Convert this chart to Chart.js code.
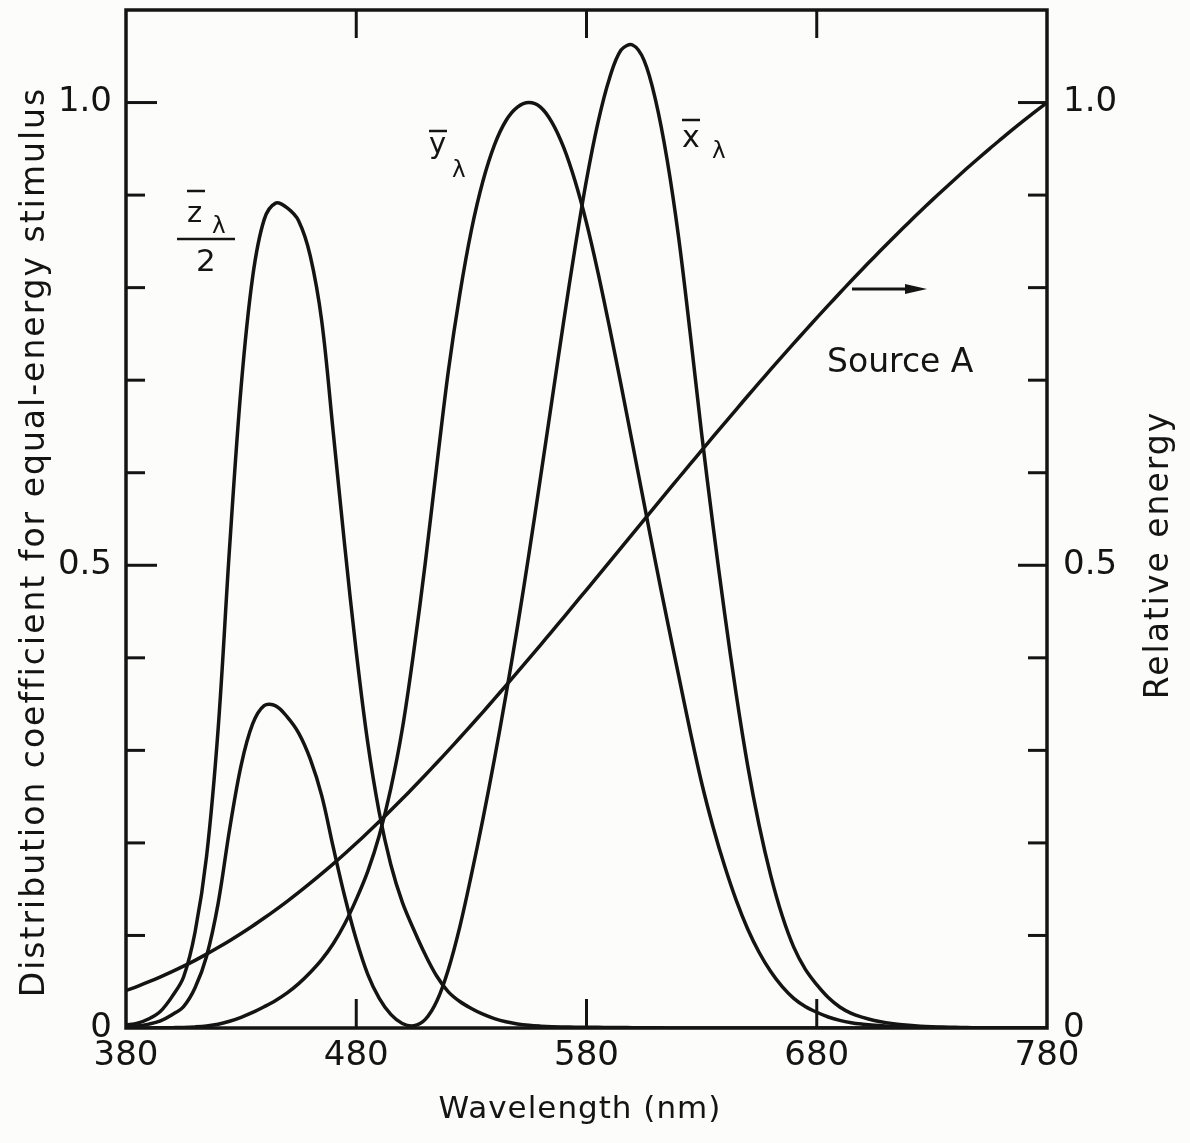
<!DOCTYPE html>
<html>
<head>
<meta charset="utf-8">
<script src="https://cdn.jsdelivr.net/npm/chart.js@4.4.1/dist/chart.umd.min.js"></script>
<style>
  html, body { margin: 0; padding: 0; background: #fcfcfb; }
  #wrap { width: 1190px; height: 1143px; position: relative; }
</style>
</head>
<body>
<div id="wrap"><canvas id="cie"></canvas></div>
<script>
// wavelengths, nm (5 nm steps)
const wavelengths = [
  380, 385, 390, 395, 400, 405, 410, 415, 420, 425, 430, 435, 440, 445, 450, 455,
  460, 465, 470, 475, 480, 485, 490, 495, 500, 505, 510, 515, 520, 525, 530, 535,
  540, 545, 550, 555, 560, 565, 570, 575, 580, 585, 590, 595, 600, 605, 610, 615,
  620, 625, 630, 635, 640, 645, 650, 655, 660, 665, 670, 675, 680, 685, 690, 695,
  700, 705, 710, 715, 720, 725, 730, 735, 740, 745, 750, 755, 760, 765, 770, 775, 780
];

const xBar = [
  0.0014, 0.0022, 0.0042, 0.0077, 0.0143, 0.0232, 0.0435, 0.0776, 0.1344, 0.2148, 0.2839, 0.3285, 0.3483, 0.3481, 0.3362, 0.3187,
  0.2908, 0.2511, 0.1954, 0.1421, 0.0956, 0.0580, 0.0320, 0.0147, 0.0049, 0.0024, 0.0093, 0.0291, 0.0633, 0.1096, 0.1655, 0.2257,
  0.2904, 0.3597, 0.4334, 0.5121, 0.5945, 0.6784, 0.7621, 0.8425, 0.9163, 0.9786, 1.0263, 1.0567, 1.0622, 1.0456, 1.0026, 0.9384,
  0.8544, 0.7514, 0.6424, 0.5419, 0.4479, 0.3608, 0.2835, 0.2187, 0.1649, 0.1212, 0.0874, 0.0636, 0.0468, 0.0329, 0.0227, 0.0158,
  0.0114, 0.0081, 0.0058, 0.0041, 0.0029, 0.0020, 0.0014, 0.0010, 0.0007, 0.0005, 0.0003, 0.0002, 0.0002, 0.0001, 0.0001, 0.0001, 0.0000
];

const yBar = [
  0.0000, 0.0001, 0.0001, 0.0002, 0.0004, 0.0006, 0.0012, 0.0022, 0.0040, 0.0073, 0.0116, 0.0168, 0.0230, 0.0298, 0.0380, 0.0480,
  0.0600, 0.0739, 0.0910, 0.1126, 0.1390, 0.1693, 0.2080, 0.2586, 0.3230, 0.4073, 0.5030, 0.6082, 0.7100, 0.7932, 0.8620, 0.9149,
  0.9540, 0.9803, 0.9950, 1.0000, 0.9950, 0.9786, 0.9520, 0.9154, 0.8700, 0.8163, 0.7570, 0.6949, 0.6310, 0.5668, 0.5030, 0.4412,
  0.3810, 0.3210, 0.2650, 0.2170, 0.1750, 0.1382, 0.1070, 0.0816, 0.0610, 0.0446, 0.0320, 0.0232, 0.0170, 0.0119, 0.0082, 0.0057,
  0.0041, 0.0029, 0.0021, 0.0015, 0.0010, 0.0007, 0.0005, 0.0004, 0.0002, 0.0002, 0.0001, 0.0001, 0.0001, 0.0000, 0.0000, 0.0000, 0.0000
];

// z-bar already halved, as plotted
const zBarHalf = [
  0.0032, 0.0053, 0.0100, 0.0181, 0.0339, 0.0551, 0.1037, 0.1857, 0.3228, 0.5195, 0.6928, 0.8115, 0.8735, 0.8913, 0.8861, 0.8721,
  0.8346, 0.7641, 0.6438, 0.5210, 0.4065, 0.3081, 0.2326, 0.1767, 0.1360, 0.1062, 0.0791, 0.0559, 0.0391, 0.0286, 0.0211, 0.0149,
  0.0102, 0.0067, 0.0044, 0.0029, 0.0020, 0.0014, 0.0011, 0.0009, 0.0008, 0.0007, 0.0006, 0.0005, 0.0004, 0.0003, 0.0002, 0.0001,
  0.0001, 0.0000, 0.0000, 0.0000, 0.0000, 0.0000, 0.0000, 0.0000, 0.0000, 0.0000, 0.0000, 0.0000, 0.0000, 0.0000, 0.0000, 0.0000,
  0.0000, 0.0000, 0.0000, 0.0000, 0.0000, 0.0000, 0.0000, 0.0000, 0.0000, 0.0000, 0.0000, 0.0000, 0.0000, 0.0000, 0.0000, 0.0000, 0.0000
];

// Source A, relative energy (1.0 at 780 nm)
const sourceA = [
  0.0405, 0.0451, 0.0500, 0.0553, 0.0609, 0.0668, 0.0731, 0.0798, 0.0869, 0.0943, 0.1021, 0.1102, 0.1188, 0.1277, 0.1369, 0.1465,
  0.1565, 0.1668, 0.1774, 0.1883, 0.1996, 0.2112, 0.2231, 0.2353, 0.2477, 0.2604, 0.2734, 0.2866, 0.3000, 0.3136, 0.3274, 0.3414,
  0.3556, 0.3700, 0.3845, 0.3991, 0.4138, 0.4286, 0.4435, 0.4585, 0.4735, 0.4886, 0.5037, 0.5188, 0.5340, 0.5491, 0.5642, 0.5792,
  0.5943, 0.6092, 0.6241, 0.6390, 0.6537, 0.6683, 0.6829, 0.6973, 0.7116, 0.7257, 0.7397, 0.7536, 0.7673, 0.7808, 0.7942, 0.8074,
  0.8204, 0.8332, 0.8458, 0.8582, 0.8704, 0.8825, 0.8943, 0.9058, 0.9172, 0.9284, 0.9393, 0.9500, 0.9604, 0.9707, 0.9807, 0.9905, 1.0000
];

// tick marks and labels
const xTickMarks = [480, 580, 680];
const yMajorTicks = [0.5, 1.0];
const yMinorTicks = [0.1, 0.2, 0.3, 0.4, 0.6, 0.7, 0.8, 0.9];
const yTickLabels = { 0: "0", 0.5: "0.5", 1: "1.0" };

const ink = "#141414";
const font = "'DejaVu Sans', sans-serif";

const toPoints = (vals) => wavelengths.map((w, i) => ({ x: w, y: vals[i] }));

function lineDs(label, vals, axis) {
  return {
    label: label,
    data: toPoints(vals),
    yAxisID: axis,
    borderColor: ink,
    borderWidth: 3.5,
    pointRadius: 0,
    fill: false,
    tension: 0.35,
  };
}

function yLabel(value) {
  for (const k in yTickLabels) {
    if (Math.abs(value - Number(k)) < 1e-6) return yTickLabels[k];
  }
  return "";
}

// no extra room for first/last labels: the plot frame is fixed
function noPad(s) {
  s.paddingTop = 0;
  s.paddingBottom = 0;
  s.paddingLeft = 0;
  s.paddingRight = 0;
}

// frame, inward ticks, axis titles and curve labels
const decorPlugin = {
  id: "decor",
  afterDatasetsDraw(chart) {
    const { ctx, chartArea: a, scales } = chart;
    const seg = (x1, y1, x2, y2) => {
      ctx.beginPath();
      ctx.moveTo(x1, y1);
      ctx.lineTo(x2, y2);
      ctx.stroke();
    };
    ctx.save();
    ctx.strokeStyle = ink;
    ctx.fillStyle = ink;
    ctx.lineWidth = 3.5;
    ctx.lineCap = "square";
    ctx.strokeRect(a.left, a.top, a.right - a.left, a.bottom - a.top);
    ctx.lineCap = "butt";
    ctx.lineWidth = 3;

    yMajorTicks.forEach((v) => {
      const py = scales.y.getPixelForValue(v);
      seg(a.left, py, a.left + 31, py);
      seg(a.right, py, a.right - 29, py);
    });
    yMinorTicks.forEach((v) => {
      const py = scales.y.getPixelForValue(v);
      seg(a.left, py, a.left + 19, py);
      seg(a.right, py, a.right - 19, py);
    });
    xTickMarks.forEach((v) => {
      const px = scales.x.getPixelForValue(v);
      seg(px, a.top, px, a.top + 28);
      seg(px, a.bottom, px, a.bottom - 29);
    });

    // axis titles
    ctx.textBaseline = "alphabetic";
    ctx.textAlign = "center";
    ctx.font = "31px " + font;
    ctx.letterSpacing = "1px";
    ctx.fillText("Wavelength (nm)", 580, 1118);

    ctx.font = "33px " + font;
    ctx.letterSpacing = "2px";
    ctx.save();
    ctx.translate(44, 542);
    ctx.rotate(-Math.PI / 2);
    ctx.fillText("Distribution coefficient for equal-energy stimulus", 0, 0);
    ctx.restore();
    ctx.save();
    ctx.translate(1168, 555);
    ctx.rotate(-Math.PI / 2);
    ctx.fillText("Relative energy", 0, 0);
    ctx.restore();

    // curve labels
    ctx.textAlign = "left";
    ctx.letterSpacing = "0px";
    ctx.lineWidth = 2.5;

    ctx.font = "29px " + font;
    ctx.fillText("z", 187, 222);
    seg(187, 191, 205, 191);
    ctx.font = "23px " + font;
    ctx.fillText("\u03bb", 212, 233);
    seg(177, 239, 235, 239);
    ctx.font = "31px " + font;
    ctx.fillText("2", 196, 271);

    ctx.font = "29px " + font;
    ctx.fillText("y", 429, 153);
    seg(429, 131, 447, 131);
    ctx.font = "23px " + font;
    ctx.fillText("\u03bb", 452, 177);

    ctx.font = "30px " + font;
    ctx.fillText("x", 682, 147);
    seg(682, 120, 700, 120);
    ctx.font = "23px " + font;
    ctx.fillText("\u03bb", 712, 158);

    ctx.font = "33px " + font;
    ctx.fillText("Source A", 827, 372);

    // arrow pointing to the right-hand axis
    ctx.lineWidth = 3;
    seg(852, 289, 910, 289);
    ctx.beginPath();
    ctx.moveTo(927, 289);
    ctx.lineTo(905, 284);
    ctx.lineTo(905, 294);
    ctx.closePath();
    ctx.fill();
    ctx.restore();
  },
};

const bgPlugin = {
  id: "bg",
  beforeDraw(chart) {
    const ctx = chart.ctx;
    ctx.save();
    ctx.fillStyle = "#fcfcfb";
    ctx.fillRect(0, 0, chart.width, chart.height);
    ctx.restore();
  },
};

const tickFont = { family: font, size: 34 };

new Chart(document.getElementById("cie"), {
  type: "line",
  data: {
    datasets: [
      lineDs("x̄λ", xBar, "y"),
      lineDs("ȳλ", yBar, "y"),
      lineDs("z̄λ/2", zBarHalf, "y"),
      lineDs("Source A", sourceA, "y2"),
    ],
  },
  options: {
    responsive: true,
    maintainAspectRatio: false,
    animation: false,
    events: [],
    layout: { padding: { top: 10, left: 0, right: 0, bottom: 0 } },
    plugins: {
      legend: { display: false },
      tooltip: { enabled: false },
    },
    scales: {
      x: {
        type: "linear",
        min: 380,
        max: 780,
        grid: { display: false, drawTicks: false },
        border: { display: false },
        ticks: { stepSize: 100, color: ink, font: tickFont, padding: 8, maxRotation: 0 },
        afterFit: (s) => { s.height = 115; noPad(s); },
      },
      y: {
        position: "left",
        min: 0,
        max: 1.1,
        grid: { display: false, drawTicks: false },
        border: { display: false },
        ticks: { stepSize: 0.1, color: ink, font: tickFont, padding: 14, callback: yLabel },
        afterFit: (s) => { s.width = 126; noPad(s); },
      },
      y2: {
        position: "right",
        min: 0,
        max: 1.1,
        grid: { display: false, drawTicks: false },
        border: { display: false },
        ticks: { stepSize: 0.1, color: ink, font: tickFont, padding: 16, callback: yLabel },
        afterFit: (s) => { s.width = 143; noPad(s); },
      },
    },
  },
  plugins: [bgPlugin, decorPlugin],
});
</script>
</body>
</html>
